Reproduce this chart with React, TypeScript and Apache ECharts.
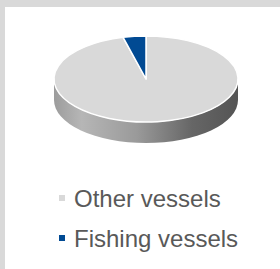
import React, { useEffect, useRef } from 'react';
import * as echarts from 'echarts';

const categories = ['Other vessels', 'Fishing vessels'];
const shares = [96, 4];

const sliceColors = ['#d9d9d9', '#014a93'];

export default function App() {
  const ref = useRef<HTMLDivElement>(null);
  useEffect(() => {
    const chart = echarts.init(ref.current!, null, { renderer: 'svg' });
    const total = shares.reduce((a, b) => a + b, 0);
    const cx = 146, cy = 79, rx = 92, ry = 43, depth = 21;
    const pt = (deg: number, dy = 0) => {
      const t = (deg * Math.PI) / 180;
      return [cx + rx * Math.sin(t), cy - ry * Math.cos(t) + dy];
    };
    const sideGradient = {
      type: 'linear', x: 0, y: 0, x2: 1, y2: 0,
      colorStops: [
        { offset: 0, color: '#9c9c9c' },
        { offset: 0.15, color: '#b6b6b6' },
        { offset: 0.45, color: '#9a9a9a' },
        { offset: 0.75, color: '#666666' },
        { offset: 1, color: '#545454' },
      ],
    };
    const makeRender = (index: number) => (params: any, api: any) => {
      const v = api.value(0);
      const before = shares.slice(0, index).reduce((a, b) => a + b, 0);
      const a0 = (before / total) * 360;
      const a1 = ((before + v) / total) * 360;
      const children: any[] = [];
      const s0 = Math.max(a0, 90), s1 = Math.min(a1, 270);
      if (s1 > s0) {
        const p0 = pt(s0), p1 = pt(s1), q1 = pt(s1, depth), q0 = pt(s0, depth);
        const large = s1 - s0 > 180 ? 1 : 0;
        const d = `M${p0[0]} ${p0[1]} A${rx} ${ry} 0 ${large} 1 ${p1[0]} ${p1[1]} L${q1[0]} ${q1[1]} A${rx} ${ry} 0 ${large} 0 ${q0[0]} ${q0[1]} Z`;
        children.push({ type: 'path', shape: { pathData: d }, style: { fill: sideGradient, stroke: 'none' } });
      }
      const p0 = pt(a0), p1 = pt(a1);
      const large = a1 - a0 > 180 ? 1 : 0;
      const d = `M${cx} ${cy} L${p0[0]} ${p0[1]} A${rx} ${ry} 0 ${large} 1 ${p1[0]} ${p1[1]} Z`;
      children.push({
        type: 'path',
        shape: { pathData: d },
        style: { fill: sliceColors[index], stroke: '#ffffff', lineWidth: 1.5, lineJoin: 'round' },
      });
      return { type: 'group', children };
    };

    chart.setOption({
      animation: false,
      backgroundColor: '#ffffff',
      graphic: [
        { type: 'rect', shape: { x: 0, y: 0, width: 280, height: 7 }, style: { fill: '#d9d9d9' }, silent: true },
        { type: 'rect', shape: { x: 0, y: 0, width: 5, height: 269 }, style: { fill: '#d9d9d9' }, silent: true },
      ],
      legend: {
        orient: 'vertical',
        left: 59,
        top: 186,
        padding: 0,
        itemGap: 16,
        itemWidth: 14,
        itemHeight: 6,
        icon: 'path://M0 0H6V6H0Z',
        data: categories.map((name, i) => ({ name, itemStyle: { color: sliceColors[i] } })),
        textStyle: { fontSize: 24, color: '#595959', fontFamily: 'Liberation Sans, Arial, sans-serif' },
        selectedMode: false,
      },
      series: categories.map((name, i) => ({
        type: 'custom',
        name,
        coordinateSystem: 'none',
        itemStyle: { color: sliceColors[i] },
        data: [[shares[i]]],
        renderItem: makeRender(i),
        silent: true,
      })),
    });
    return () => chart.dispose();
  }, []);
  return (
    <div
      ref={ref}
      style={{ position: 'fixed', left: 0, top: 0, width: 280, height: 269 }}
    />
  );
}
